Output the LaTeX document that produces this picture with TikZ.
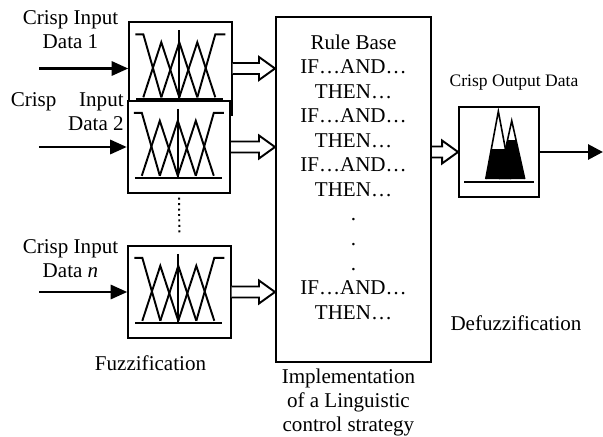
\documentclass[tikz,border=0pt]{standalone}
\usepackage{fontspec}
\setmainfont{Liberation Serif}
\usetikzlibrary{arrows.meta,calc,positioning}

\begin{document}
\begin{tikzpicture}[x=0.57pt, y=-0.57pt,
    font=\fontsize{12}{14}\selectfont,
    box/.style={draw, rectangle, line width=1.1pt, inner sep=0pt, fill=white},
    fuzzbox/.style={box, minimum width=58.4pt, minimum height=52.7pt},
    lbl/.style={inner sep=0pt, align=center},
    inarrow/.style={line width=1.7pt, -{Triangle[length=9.5pt,width=8pt]}},
    outarrow/.style={line width=1.7pt, -{Triangle[length=8.5pt,width=8.5pt]}},
    hollow/.style={draw, fill=white, line width=1.1pt, line join=miter,
      to path={($(\tikztostart)+(0,-5.5)$) -- ($(\tikztotarget)+(-16,-5.5)$)
        -- ($(\tikztotarget)+(-16,-11.5)$) -- (\tikztotarget)
        -- ($(\tikztotarget)+(-16,11.5)$) -- ($(\tikztotarget)+(-16,5.5)$)
        -- ($(\tikztostart)+(0,5.5)$)}},
    mfset/.pic={
      \draw[line width=1.1pt] (7,13) -- (15,13) -- (33,76);
      \foreach \p in {33,51,69}
        \draw[line width=1.1pt] (\p-18,76) -- (\p,21) -- (\p+18,76);
      \draw[line width=1.1pt] (69,76) -- (87,13) -- (97,13);
      \draw[line width=1.1pt] (51,9) -- (51,78);
      \draw[line width=1.1pt] (8,78) -- (95,78);
    },
    peaks/.pic={
      \begin{scope}
        \clip (0,43) rectangle (80,90);
        \fill (27.7,73) -- (40.3,5.3) -- (53,73) -- cycle;
      \end{scope}
      \begin{scope}
        \clip (0,34.7) rectangle (80,90);
        \fill (41,73) -- (53.7,14.7) -- (66.7,73) -- cycle;
      \end{scope}
      \draw[line width=0.9pt] (27.7,73) -- (40.3,5.3) -- (53,73);
      \draw[line width=0.9pt] (41,73) -- (53.7,14.7) -- (66.7,73);
      \draw[line width=1.1pt] (6,76) -- (76,76);
    }]
    \useasboundingbox (0,0) rectangle (603,437);

    % Fuzzification boxes
    \node (fz1) [fuzzbox] at (180.5,68.5) {};
    \pic at (fz1.north west) {mfset};
    \node (fz2) [fuzzbox] at (179,147) {};
    \pic at (fz2.north west) {mfset};
    \node (fzn) [fuzzbox] at (179.5,292) {};
    \pic at (fzn.north west) {mfset};

    % Rule base and defuzzification
    \node (rule) [box, minimum width=88.4pt, minimum height=196.7pt] at (353.5,189.5) {};
    \node (rules) [lbl, below=10.3pt of rule.north]
    {Rule Base\\IF…AND…\\THEN…\\IF…AND…\\THEN…\\IF…AND…\\THEN…\\.\\.\\.\\IF…AND…\\THEN…};
    \node (out) [box, minimum width=45.6pt, minimum height=51.3pt] at (499,152) {};
    \pic at (out.north west) {peaks};

    % Labels
    \node (lbl1) [lbl, anchor=north] at (70.5,10) {Crisp Input\\Data 1};
    \node (lbl2) [lbl, align=right, anchor=north east] at (124,92) {Crisp\hspace{10pt} Input\\Data 2};
    \node (lbln) [lbl, anchor=north] at (70.5,239) {Crisp Input\\Data \textit{n}};
    \node (fuzlbl) [lbl, anchor=north] at (150.5,355) {Fuzzification};
    \node (implbl) [lbl, below=3.4pt of rule, xshift=-2.9pt, font=\fontsize{12}{13.6}\selectfont]
    {Implementation\\of a Linguistic\\control strategy};
    \node (outlbl) [lbl, anchor=north, font=\fontsize{10}{12}\selectfont] at (514,75) {Crisp Output Data};
    \node (deflbl) [lbl, anchor=north] at (516,315) {Defuzzification};

    % Arrows
    \coordinate (in1) at ($(fz1.west)+(-89,0)$);
    \coordinate (in2) at ($(fz2.west)+(-88,0)$);
    \coordinate (inn) at ($(fzn.west)+(-88,0)$);
    \coordinate (outend) at ($(out.east)+(63,0)$);
    \draw[inarrow] (in1) -- (fz1.west);
    \draw[inarrow] (in2) -- (fz2.west);
    \draw[inarrow] (inn) -- (fzn.west);
    \draw[hollow] (fz1.east) to (rule.west |- fz1.east);
    \draw[hollow] (fz2.east) to (rule.west |- fz2.east);
    \draw[hollow] (fzn.east) to (rule.west |- fzn.east);
    \draw[hollow] (rule.east |- out.west) to (out.west);
    \draw[outarrow] (out.east) -- (outend);
    \draw[dotted, line width=1.1pt, shorten <=2pt, shorten >=6pt] (fz2.south) -- (fzn.north);
\end{tikzpicture}
\end{document}
